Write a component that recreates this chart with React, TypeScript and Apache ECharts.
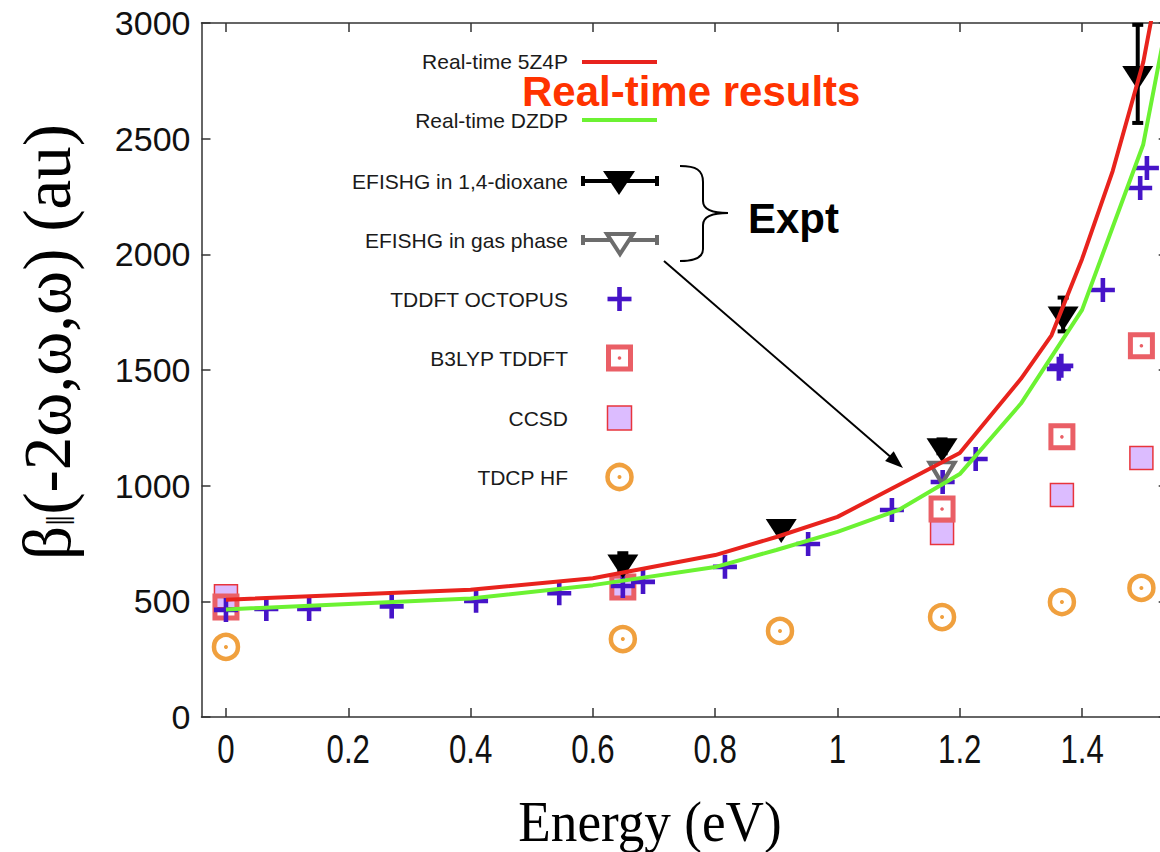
import React, { useEffect, useRef } from "react";
import * as echarts from "echarts";

// ---- data ----
const xTicks = [0, 0.2, 0.4, 0.6, 0.8, 1, 1.2, 1.4];

const redE = [0, 0.4, 0.6, 0.8, 0.9, 1.0, 1.1, 1.2, 1.3, 1.35, 1.4, 1.45, 1.5, 1.55];
const redV = [507, 550, 600, 700, 778, 865, 1003, 1141, 1462, 1650, 1980, 2360, 2830, 3530];

const greenE = [0, 0.4, 0.6, 0.8, 0.9, 1.0, 1.1, 1.2, 1.3, 1.4, 1.5, 1.6];
const greenV = [465, 512, 570, 648, 722, 800, 895, 1050, 1355, 1760, 2475, 3850];

const dioxE = [0.649, 0.908, 1.171, 1.369, 1.491];
const dioxV = [668, 821, 1170, 1740, 2780];
const dioxErr = [40, 20, 30, 73, 212];

const gasE = [1.171];
const gasV = [1072];

const octE = [0, 0.066, 0.136, 0.271, 0.409, 0.545, 0.649, 0.682, 0.816, 0.952, 1.089, 1.172, 1.226, 1.362, 1.366, 1.434, 1.495, 1.506];
const octV = [463, 467, 467, 478, 502, 535, 566, 584, 649, 748, 895, 1016, 1115, 1505, 1518, 1846, 2287, 2373];

const b3E = [0, 0.649, 1.171, 1.367, 1.497];
const b3V = [476, 562, 899, 1211, 1605];

const ccE = [0, 0.649, 1.171, 1.367, 1.497];
const ccV = [522, 562, 795, 960, 1120];

const hfE = [0, 0.649, 0.906, 1.171, 1.367, 1.497];
const hfV = [303, 337, 372, 432, 497, 558];

const legendLabels = [
  "Real-time 5Z4P",
  "Real-time DZDP",
  "EFISHG in 1,4-dioxane",
  "EFISHG in gas phase",
  "TDDFT OCTOPUS",
  "B3LYP TDDFT",
  "CCSD",
  "TDCP HF",
];

const RED = "#e8231d";
const GREEN = "#6cf232";
const BLUE = "#4614c8";
const PINK = "#ea5f66";
const LILAC = "#dcbcff";
const ORANGE = "#f0a03e";
const GRAY = "#6c6c6c";

const zip = (a: number[], b: number[]) => a.map((x, i) => [x, b[i]]);

const PLUS = "path://M-2.3,-12H2.3V-2.3H12V2.3H2.3V12H-2.3V2.3H-12V-2.3H-2.3Z";

export default function App() {
  const ref = useRef<HTMLDivElement>(null);

  useEffect(() => {
    if (!ref.current) return;
    const chart = echarts.init(ref.current, undefined, { renderer: "svg" });

    const legendY = [61, 120, 181, 240, 299, 358, 418, 477];
    const lx1 = 582, lx2 = 657, lcx = 619.5;
    const textFont = "'Liberation Sans', Arial, sans-serif";
    const serif = "'Liberation Serif', 'Times New Roman', serif";

    const legendGraphics: any[] = legendLabels.map((t, i) => ({
      type: "text",
      style: {
        text: t,
        x: 568,
        y: legendY[i],
        textAlign: "right",
        textVerticalAlign: "middle",
        fontSize: 21,
        lineHeight: 21,
        fontFamily: textFont,
        fill: "#1a1a1a",
      },
    }));

    const cap = (x: number, y: number, c: string) => ({
      type: "line",
      shape: { x1: x, y1: y - 5, x2: x, y2: y + 5 },
      style: { stroke: c, lineWidth: 4 },
    });

    legendGraphics.push(
      { type: "line", shape: { x1: lx1, y1: 62, x2: lx2, y2: 62 }, style: { stroke: RED, lineWidth: 4 } },
      { type: "line", shape: { x1: lx1, y1: legendY[1], x2: lx2, y2: legendY[1] }, style: { stroke: GREEN, lineWidth: 4 } },
      { type: "line", shape: { x1: lx1 + 1, y1: legendY[2], x2: lx2, y2: legendY[2] }, style: { stroke: "#000", lineWidth: 4 } },
      cap(lx1 + 1, legendY[2], "#000"),
      cap(lx2, legendY[2], "#000"),
      { type: "polygon", shape: { points: [[603, 171], [635, 171], [619, 195]] }, style: { fill: "#000" } },
      { type: "line", shape: { x1: lx1 + 1, y1: legendY[3], x2: lx2, y2: legendY[3] }, style: { stroke: GRAY, lineWidth: 4 } },
      cap(lx1 + 1, legendY[3], GRAY),
      cap(lx2, legendY[3], GRAY),
      { type: "polygon", shape: { points: [[607, 234], [633, 234], [620, 254]] }, style: { fill: "#fff", stroke: GRAY, lineWidth: 4 } },
      { type: "rect", shape: { x: lcx - 12, y: legendY[4] - 2.3, width: 24, height: 4.6 }, style: { fill: BLUE } },
      { type: "rect", shape: { x: lcx - 2.3, y: legendY[4] - 12, width: 4.6, height: 24 }, style: { fill: BLUE } },
      { type: "rect", shape: { x: lcx - 11, y: legendY[5] - 11, width: 22, height: 22 }, style: { fill: "none", stroke: PINK, lineWidth: 5 } },
      { type: "circle", shape: { cx: lcx, cy: legendY[5], r: 1.8 }, style: { fill: PINK } },
      { type: "rect", shape: { x: lcx - 12, y: legendY[6] - 12, width: 24, height: 24 }, style: { fill: LILAC, stroke: "#e8343c", lineWidth: 1.5 } },
      { type: "circle", shape: { cx: lcx, cy: legendY[7], r: 12 }, style: { fill: "none", stroke: ORANGE, lineWidth: 4.5 } },
      { type: "circle", shape: { cx: lcx, cy: legendY[7], r: 2 }, style: { fill: ORANGE } }
    );

    const braceStyle = { stroke: "#000", lineWidth: 2, fill: "none" };
    const annotations: any[] = [
      {
        type: "text",
        style: {
          text: "Real-time results",
          x: 522,
          y: 91,
          textAlign: "left",
          textVerticalAlign: "middle",
          fontSize: 42,
          lineHeight: 32,
          fontWeight: "bold",
          fontFamily: textFont,
          fill: "#ff3300",
        },
      },
      {
        type: "text",
        style: {
          text: "Expt",
          x: 748,
          y: 218,
          textAlign: "left",
          textVerticalAlign: "middle",
          fontSize: 42,
          fontWeight: "bold",
          fontFamily: textFont,
          fill: "#000",
        },
      },
      { type: "bezierCurve", shape: { x1: 680, y1: 166, cpx1: 696, cpy1: 166, cpx2: 703, cpy2: 170, x2: 703, y2: 182 }, style: braceStyle },
      { type: "line", shape: { x1: 703, y1: 182, x2: 703, y2: 201 }, style: braceStyle },
      { type: "bezierCurve", shape: { x1: 703, y1: 201, cpx1: 703, cpy1: 209, cpx2: 710, cpy2: 213, x2: 728, y2: 213 }, style: braceStyle },
      { type: "bezierCurve", shape: { x1: 728, y1: 213, cpx1: 710, cpy1: 213, cpx2: 703, cpy2: 217, x2: 703, y2: 225 }, style: braceStyle },
      { type: "line", shape: { x1: 703, y1: 225, x2: 703, y2: 249 }, style: braceStyle },
      { type: "bezierCurve", shape: { x1: 703, y1: 249, cpx1: 703, cpy1: 257, cpx2: 696, cpy2: 261, x2: 680, y2: 261 }, style: braceStyle },
      { type: "line", shape: { x1: 664, y1: 261, x2: 893, y2: 459 }, style: { stroke: "#000", lineWidth: 2 } },
      { type: "polygon", shape: { points: [[903, 468], [885.1, 461.1], [893.7, 451.3]] }, style: { fill: "#000" } },
      {
        type: "text",
        x: 650,
        y: 822,
        scaleX: 0.95,
        style: {
          text: "Energy (eV)",
          x: 0,
          y: 0,
          textAlign: "center",
          textVerticalAlign: "middle",
          fontSize: 56,
          fontFamily: serif,
          fill: "#000",
        },
      },
      {
        type: "text",
        x: 47,
        y: 342,
        rotation: Math.PI / 2,
        style: {
          text: "{n|β}{s|‖}{n|(-2ω,ω,ω) (au)}",
          x: 0,
          y: 0,
          textAlign: "center",
          textVerticalAlign: "middle",
          fill: "#000",
          rich: {
            n: { fontSize: 67, fontFamily: serif, fill: "#000" },
            s: { fontSize: 40, fontFamily: serif, fill: "#000", verticalAlign: "bottom" },
          },
        },
      },
    ];

    const axisLineStyle = { color: "#333", width: 1.5 };

    const option: any = {
      animation: false,
      backgroundColor: "#fff",
      grid: { left: 201.5, top: 23, width: 966.2, height: 694, outerBoundsMode: "none", containLabel: false },
      xAxis: [
        {
          type: "value",
          min: -0.04,
          max: 1.54,
          position: "bottom",
          axisLine: { show: true, onZero: false, lineStyle: axisLineStyle },
          axisTick: { show: true, inside: true, length: 9, customValues: xTicks, lineStyle: axisLineStyle },
          axisLabel: { show: false },
          splitLine: { show: false },
        },
        {
          type: "value",
          min: -0.04,
          max: 1.54,
          position: "top",
          axisLine: { show: true, onZero: false, lineStyle: axisLineStyle },
          axisTick: { show: true, inside: true, length: 9, customValues: xTicks, lineStyle: axisLineStyle },
          axisLabel: { show: false },
          splitLine: { show: false },
        },
      ],
      yAxis: [
        {
          type: "value",
          min: 0,
          max: 3000,
          interval: 500,
          position: "left",
          axisLine: { show: true, onZero: false, lineStyle: axisLineStyle },
          axisTick: { show: true, inside: true, length: 9, lineStyle: axisLineStyle },
          axisLabel: {
            margin: 11,
            fontSize: 34,
            fontFamily: textFont,
            color: "#111",
            formatter: (v: number) => String(v),
          },
          splitLine: { show: false },
        },
        {
          type: "value",
          min: 0,
          max: 3000,
          interval: 500,
          position: "right",
          axisLine: { show: true, onZero: false, lineStyle: axisLineStyle },
          axisTick: { show: true, inside: true, length: 9, lineStyle: axisLineStyle },
          axisLabel: { show: false },
          splitLine: { show: false },
        },
      ],
      series: [
        {
          name: legendLabels[0],
          type: "line",
          data: zip(redE, redV),
          showSymbol: false,
          symbol: "none",
          lineStyle: { color: RED, width: 4 },
        },
        {
          name: legendLabels[1],
          type: "line",
          data: zip(greenE, greenV),
          showSymbol: false,
          symbol: "none",
          lineStyle: { color: GREEN, width: 4 },
        },
        {
          name: legendLabels[6],
          type: "scatter",
          data: zip(ccE, ccV),
          symbol: "rect",
          symbolSize: 23,
          itemStyle: { color: LILAC, borderColor: "#e8343c", borderWidth: 1.5, opacity: 1 },
        },
        {
          name: legendLabels[5],
          type: "scatter",
          data: zip(b3E, b3V),
          symbol: "rect",
          symbolSize: 22,
          itemStyle: { color: "rgba(255,255,255,0)", borderColor: PINK, borderWidth: 5, opacity: 1 },
        },
        {
          name: legendLabels[5] + " dot",
          type: "scatter",
          data: zip(b3E, b3V),
          symbol: "circle",
          symbolSize: 3.6,
          itemStyle: { color: PINK, opacity: 1 },
        },
        {
          name: legendLabels[7],
          type: "scatter",
          data: zip(hfE, hfV),
          symbol: "circle",
          symbolSize: 24,
          itemStyle: { color: "rgba(255,255,255,0)", borderColor: ORANGE, borderWidth: 4.5, opacity: 1 },
        },
        {
          name: legendLabels[7] + " dot",
          type: "scatter",
          data: zip(hfE, hfV),
          symbol: "circle",
          symbolSize: 4,
          itemStyle: { color: ORANGE, opacity: 1 },
        },
        {
          name: legendLabels[4],
          type: "scatter",
          data: zip(octE, octV),
          symbol: PLUS,
          symbolSize: 24,
          itemStyle: { color: BLUE, opacity: 1 },
        },
        {
          name: legendLabels[3],
          type: "scatter",
          data: zip(gasE, gasV),
          symbol: "triangle",
          symbolRotate: 180,
          symbolSize: [25, 21],
          symbolOffset: [0, 4],
          itemStyle: { color: "rgba(255,255,255,0)", borderColor: GRAY, borderWidth: 4, opacity: 1 },
        },
        {
          name: legendLabels[2] + " error",
          type: "custom",
          data: dioxE.map((e, i) => [e, dioxV[i] - dioxErr[i], dioxV[i] + dioxErr[i]]),
          encode: { x: 0, y: [1, 2] },
          renderItem: (params: any, api: any) => {
            const x = api.value(0);
            const p1 = api.coord([x, api.value(1)]);
            const p2 = api.coord([x, api.value(2)]);
            const cw = 5.5;
            const st = { stroke: "#000", lineWidth: 4 };
            return {
              type: "group",
              children: [
                { type: "line", shape: { x1: p1[0], y1: p1[1], x2: p2[0], y2: p2[1] }, style: st },
                { type: "line", shape: { x1: p1[0] - cw, y1: p1[1], x2: p1[0] + cw, y2: p1[1] }, style: st },
                { type: "line", shape: { x1: p2[0] - cw, y1: p2[1], x2: p2[0] + cw, y2: p2[1] }, style: st },
              ],
            };
          },
        },
        {
          name: legendLabels[2],
          type: "scatter",
          data: zip(dioxE, dioxV),
          symbol: "triangle",
          symbolRotate: 180,
          symbolSize: [31, 24],
          symbolOffset: [0, 4],
          itemStyle: { color: "#000", opacity: 1 },
        },
      ],
    };

    chart.setOption(option);

    // x tick labels in a condensed face, placed through the axis scale
    const xLabelGraphics = xTicks.map((v) => {
      const px = chart.convertToPixel({ xAxisIndex: 0 }, v) as number;
      return {
        type: "text",
        x: px,
        y: 750,
        scaleX: 0.78,
        style: {
          text: String(v),
          x: 0,
          y: 0,
          textAlign: "center",
          textVerticalAlign: "middle",
          fontSize: 40,
          fontFamily: textFont,
          fill: "#111",
        },
      };
    });

    chart.setOption({ graphic: { elements: [...legendGraphics, ...annotations, ...xLabelGraphics] } });
    return () => chart.dispose();
  }, []);

  return (
    <div
      ref={ref}
      style={{ position: "absolute", left: 0, top: 0, width: 1160, height: 852, background: "#fff" }}
    />
  );
}
